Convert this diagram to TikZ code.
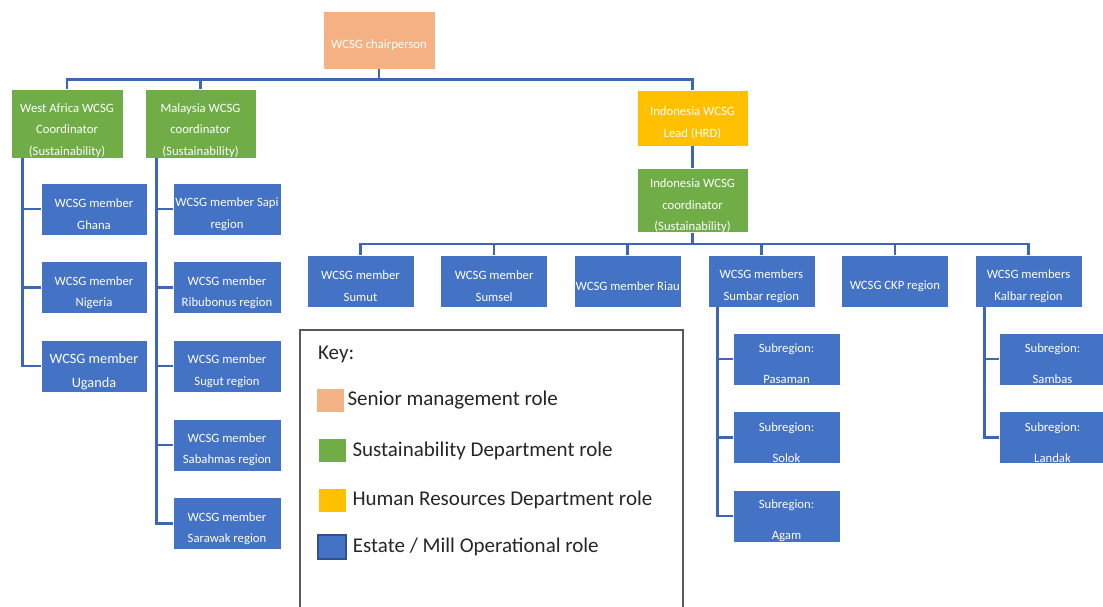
\documentclass[tikz,border=0pt]{standalone}
\usepackage{fontspec}
\setmainfont{Carlito}
\usetikzlibrary{positioning}

\definecolor{senior}{HTML}{F4B183}
\definecolor{sostenible}{HTML}{70AD47}
\definecolor{rrhh}{HTML}{FFC000}
\definecolor{operativo}{HTML}{4472C4}
\definecolor{bordeazul}{HTML}{2F528F}
\definecolor{lineacolor}{HTML}{3D67B5}

% puntal para bajar el texto dentro de las cajas
\newcommand{\tope}[1][19pt]{\rule{0pt}{#1}}

\begin{document}
\begin{tikzpicture}[
        x=1pt, y=-1pt,
        node distance=26pt,
        % Estilo base para las cajas de roles
        rolebox/.style={
                rectangle,
                draw=white,
                line width=0.6pt,
                inner xsep=1pt,
                inner ysep=0pt,
                align=center,
                text=white,
                font=\fontsize{12.7}{21.5}\selectfont
            },
        chairbox/.style={rolebox, fill=senior, minimum width=112pt, minimum height=58pt},
        coordbox/.style={rolebox, fill=sostenible, minimum width=112pt, minimum height=69pt},
        leadbox/.style={rolebox, fill=rrhh, minimum width=111pt, minimum height=56pt},
        memberbox/.style={rolebox, fill=operativo, minimum width=107pt, minimum height=52pt},
        subbox/.style={memberbox, font=\fontsize{12.7}{31}\selectfont},
        % Conectores
        link/.style={
                draw=lineacolor,
                line width=2.5pt
            },
        % Leyenda
        keyframe/.style={
                rectangle,
                draw=black!65,
                line width=1.3pt,
                minimum width=383pt,
                minimum height=300pt
            },
        keysq/.style={rectangle, draw=white, line width=0.6pt, minimum width=28pt, minimum height=24pt, inner sep=0pt},
        keylabel/.style={inner sep=0pt, font=\fontsize{21}{24}\selectfont, text=black!85}
    ]
    \useasboundingbox (0,0) rectangle (1103,606);

    % Dirección
    \node[chairbox] (chair) at (379,40) {\tope WCSG chairperson};

    % Coordinadores
    \node[coordbox] (wafrica) at (67,123.5) {\tope[23pt]West Africa WCSG\\Coordinator\\(Sustainability)};
    \node[coordbox, minimum width=111pt] (malaysia) at (200.5,123.5) {\tope[23pt]Malaysia WCSG\\coordinator\\(Sustainability)};
    \node[leadbox] (indolead) at (692.5,118) {\tope Indonesia WCSG\\Lead (HRD)};
    \node[coordbox, minimum width=111pt, minimum height=63pt, below=22pt of indolead] (indocoord) {\tope Indonesia WCSG\\coordinator\\(Sustainability)};

    % Miembros de África Occidental
    \node[memberbox, minimum width=106pt] (ghana) at (94,209) {\tope WCSG member\\Ghana};
    \node[memberbox, minimum width=106pt, below=of ghana] (nigeria) {\tope WCSG member\\Nigeria};
    \node[memberbox, minimum width=106pt, below=of nigeria, font=\fontsize{14.3}{23.5}\selectfont] (uganda) {\tope[21pt]WCSG member\\Uganda};

    % Miembros de Malasia
    \node[memberbox, minimum width=108pt] (sapi) at (227,209) {\tope WCSG member Sapi\\region};
    \node[memberbox, minimum width=108pt, below=of sapi] (ribubonus) {\tope WCSG member\\Ribubonus region};
    \node[memberbox, minimum width=108pt, below=of ribubonus] (sugut) {\tope WCSG member\\Sugut region};
    \node[memberbox, minimum width=108pt, below=of sugut] (sabahmas) {\tope WCSG member\\Sabahmas region};
    \node[memberbox, minimum width=108pt, below=of sabahmas] (sarawak) {\tope WCSG member\\Sarawak region};

    % Miembros de Indonesia
    \node[memberbox] (sumut) at (360.5,281) {\tope WCSG member\\Sumut};
    \node[memberbox, right=of sumut] (sumsel) {\tope WCSG member\\Sumsel};
    \node[memberbox, right=of sumsel] (riau) {\tope WCSG member Riau};
    \node[memberbox, right=of riau] (sumbar) {\tope WCSG members\\Sumbar region};
    \node[memberbox, right=of sumbar] (ckp) {\tope WCSG CKP region};
    \node[memberbox, right=of ckp] (kalbar) {\tope WCSG members\\Kalbar region};

    % Subregiones
    \node[subbox] (pasaman) at (786.5,359) {\tope[18pt]Subregion:\\Pasaman};
    \node[subbox, below=of pasaman] (solok) {\tope[18pt]Subregion:\\Solok};
    \node[subbox, below=of solok] (agam) {\tope[18pt]Subregion:\\Agam};
    \node[subbox] (sambas) at (1052.5,359) {\tope[18pt]Subregion:\\Sambas};
    \node[subbox, below=of sambas] (landak) {\tope[18pt]Subregion:\\Landak};

    % Conectores principales
    \draw[link] (chair.south) -- ++(0,10) coordinate (topbus);
    \draw[link] (topbus) -| (wafrica.north);
    \draw[link] (topbus) -| (malaysia.north);
    \draw[link] (topbus) -| (indolead.north);
    \draw[link] (indolead.south) -- (indocoord.north);
    \draw[link] (indocoord.south) -- ++(0,11) coordinate (indobus);
    \foreach \n in {sumut,sumsel,riau,sumbar,ckp,kalbar}
        \draw[link] (indobus) -| (\n.north);

    % Conectores laterales
    \foreach \n in {ghana,nigeria,uganda}
        \draw[link] ([xshift=12pt]wafrica.south west) |- (\n.west);
    \foreach \n in {sapi,ribubonus,sugut,sabahmas,sarawak}
        \draw[link] ([xshift=12pt]malaysia.south west) |- (\n.west);
    \foreach \n in {pasaman,solok,agam}
        \draw[link] ([xshift=10pt]sumbar.south west) |- (\n.west);
    \foreach \n in {sambas,landak}
        \draw[link] ([xshift=10pt]kalbar.south west) |- (\n.west);

    % Leyenda
    \node[keyframe] (keybox) at (491.5,480) {};
    \node[keylabel, anchor=base west] (keytitle) at (318,359) {Key:};
    \node[keysq, fill=senior] (sqsenior) at (330,400) {};
    \node[keylabel, right=3pt of sqsenior] (lblsenior) {Senior management role};
    \node[keysq, fill=sostenible] (sqsost) at (332,450.5) {};
    \node[keylabel, right=6pt of sqsost] (lblsost) {Sustainability Department role};
    \node[keysq, fill=rrhh] (sqrrhh) at (332,500) {};
    \node[keylabel, right=6pt of sqrrhh] (lblrrhh) {Human Resources Department role};
    \node[keysq, fill=operativo, draw=bordeazul, line width=1.5pt] (sqoper) at (332,547) {};
    \node[keylabel, right=6pt of sqoper] (lbloper) {Estate / Mill Operational role};

\end{tikzpicture}
\end{document}
